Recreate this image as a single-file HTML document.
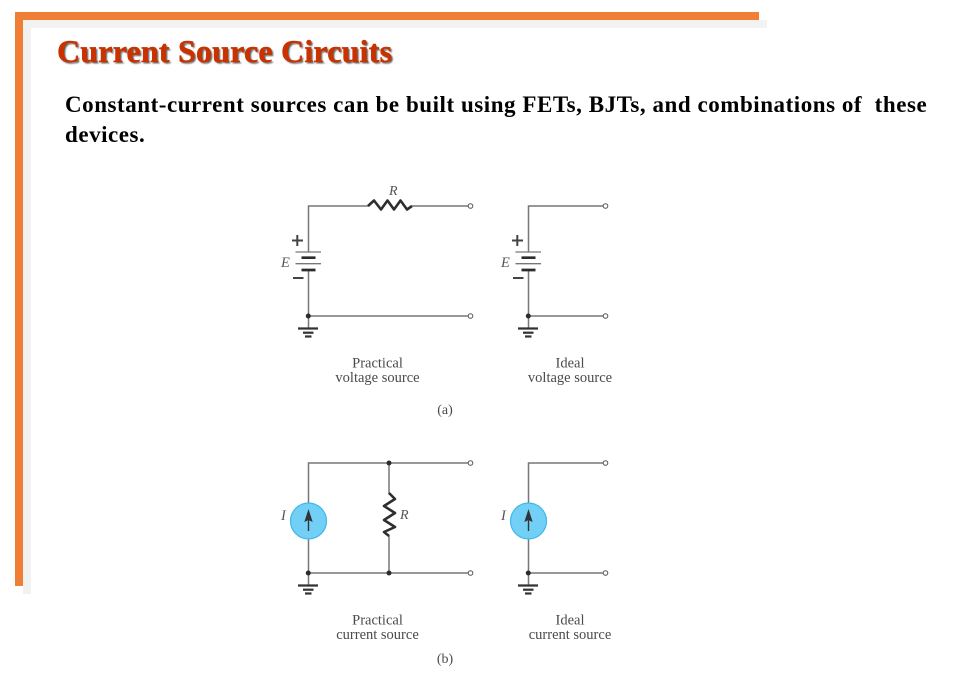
<!DOCTYPE html>
<html>
<head>
<meta charset="utf-8">
<style>
html,body{margin:0;padding:0;background:#fff;}
#p{position:relative;width:973px;height:687px;overflow:hidden;background:#fff;}
.b{position:absolute;}
.t{position:absolute;white-space:nowrap;font-family:"Liberation Serif",serif;font-weight:bold;}
svg{position:absolute;left:0;top:0;filter:blur(0.35px);}
svg text{font-family:"Liberation Serif",serif;fill:#4a4a4a;}
</style>
</head>
<body>
<div id="p">
<div class="b" style="left:23px;top:20px;width:744px;height:8px;background:#f2f2f2"></div>
<div class="b" style="left:23px;top:20px;width:8px;height:574px;background:#f2f2f2"></div>
<div class="b" style="left:15px;top:12px;width:744px;height:8px;background:#ef7f34"></div>
<div class="b" style="left:15px;top:12px;width:8px;height:574px;background:#ef7f34"></div>
<div class="t" style="left:57px;top:33px;font-size:32px;line-height:36px;color:#c83200;letter-spacing:0.2px;-webkit-text-stroke:0.5px #c83200;text-shadow:1.5px 1.5px 1.5px #666">Current Source Circuits</div>
<div class="t" style="left:65px;top:90px;font-size:23px;line-height:30px;color:#000;letter-spacing:0.54px">Constant-current sources can be built using FETs, BJTs, and combinations of&nbsp; these</div>
<div class="t" style="left:65px;top:120px;font-size:23px;line-height:30px;color:#000;letter-spacing:0.54px">devices.</div>
<svg width="973" height="687" viewBox="0 0 973 687" fill="none">
<defs>
<g id="gnd" stroke="#333">
<path d="M298 328.500h20" stroke-width="2.200"/>
<path d="M303 332.700h10.500" stroke-width="2.200"/>
<path d="M305 336.500h6.500" stroke-width="2.200"/>
</g>
<g id="bat">
<path d="M295.500 252h25.500M295.500 263.700h25.500" stroke="#777" stroke-width="1.300"/>
<path d="M301.500 257.700h14M301.500 270h14" stroke="#2c2c2c" stroke-width="2.700"/>
<path d="M292 240.500h11M297.300 235v11" stroke="#444" stroke-width="2"/>
<path d="M293 278h10.500" stroke="#444" stroke-width="2"/>
</g>
<g id="src">
<circle cx="308.500" cy="521" r="18" fill="#72cff6" stroke="#3fb9e8" stroke-width="1.200"/>
<path d="M308.500 531V518" stroke="#333" stroke-width="1.400"/>
<path d="M308.500 509l-4.200 13 4.200-2 4.200 2z" fill="#333"/>
</g>
</defs>

<!-- (a) practical -->
<path d="M308.500 252V206H369M412 206H468M308.500 270V328M308.500 316H468" stroke="#777" stroke-width="1.500"/>
<path d="M368 206L374 200.500 381 209.500 387.500 200.500 394 209.500 400.500 200.500 407 209.500 412 206" stroke="#2e2e2e" stroke-width="2.600" stroke-linejoin="round"/>
<circle cx="470.500" cy="206" r="2.300" fill="#fff" stroke="#555"/>
<circle cx="470.500" cy="316" r="2.300" fill="#fff" stroke="#555"/>
<circle cx="308.300" cy="316" r="2.500" fill="#2c2c2c"/>
<use href="#bat"/>
<use href="#gnd"/>
<text x="389" y="195" font-size="14" font-style="italic" style="fill:#555">R</text>
<text x="281" y="267" font-size="14.500" font-style="italic" style="fill:#555">E</text>

<!-- (a) ideal -->
<path d="M528.500 252V206H603M528.500 270V328M528.500 316H603" stroke="#777" stroke-width="1.500"/>
<circle cx="605.500" cy="206" r="2.300" fill="#fff" stroke="#555"/>
<circle cx="605.500" cy="316" r="2.300" fill="#fff" stroke="#555"/>
<circle cx="528.300" cy="316" r="2.500" fill="#2c2c2c"/>
<use href="#bat" x="220"/>
<use href="#gnd" x="220"/>
<text x="501" y="267" font-size="14.500" font-style="italic" style="fill:#555">E</text>

<text x="377.500" y="367.500" font-size="14.500" text-anchor="middle">Practical</text>
<text x="377.500" y="382" font-size="14.500" text-anchor="middle">voltage source</text>
<text x="570" y="367.500" font-size="14.500" text-anchor="middle">Ideal</text>
<text x="570" y="382" font-size="14.500" text-anchor="middle">voltage source</text>
<text x="445" y="414" font-size="14" text-anchor="middle">(a)</text>

<!-- (b) practical -->
<path d="M308.500 503V463H468M308.500 539V585M308.500 573H468M389 463V494M389 535V573" stroke="#777" stroke-width="1.500"/>
<path d="M389 493L395 499 384 506 395 513 384 520 395 527 384 532 389 536" stroke="#2e2e2e" stroke-width="2.600" stroke-linejoin="round"/>
<circle cx="470.500" cy="463" r="2.300" fill="#fff" stroke="#555"/>
<circle cx="470.500" cy="573" r="2.300" fill="#fff" stroke="#555"/>
<circle cx="389" cy="463" r="2.500" fill="#2c2c2c"/>
<circle cx="389" cy="573" r="2.500" fill="#2c2c2c"/>
<circle cx="308.300" cy="573" r="2.500" fill="#2c2c2c"/>
<use href="#src"/>
<use href="#gnd" y="257"/>
<text x="400" y="519" font-size="14" font-style="italic" style="fill:#555">R</text>
<text x="281" y="520" font-size="14.500" font-style="italic" style="fill:#555">I</text>

<!-- (b) ideal -->
<path d="M528.500 503V463H603M528.500 539V585M528.500 573H603" stroke="#777" stroke-width="1.500"/>
<circle cx="605.500" cy="463" r="2.300" fill="#fff" stroke="#555"/>
<circle cx="605.500" cy="573" r="2.300" fill="#fff" stroke="#555"/>
<circle cx="528.300" cy="573" r="2.500" fill="#2c2c2c"/>
<use href="#src" x="220"/>
<use href="#gnd" x="220" y="257"/>
<text x="501" y="520" font-size="14.500" font-style="italic" style="fill:#555">I</text>

<text x="377.500" y="624.500" font-size="14.500" text-anchor="middle">Practical</text>
<text x="377.500" y="639" font-size="14.500" text-anchor="middle">current source</text>
<text x="570" y="624.500" font-size="14.500" text-anchor="middle">Ideal</text>
<text x="570" y="639" font-size="14.500" text-anchor="middle">current source</text>
<text x="445" y="663" font-size="14" text-anchor="middle">(b)</text>
</svg>
</div>
</body>
</html>
